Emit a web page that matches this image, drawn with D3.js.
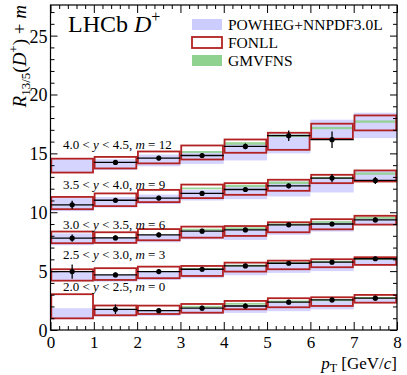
<!DOCTYPE html>
<html><head><meta charset="utf-8">
<script src="https://cdn.jsdelivr.net/npm/d3@7"></script>
<style>body{margin:0;background:#fff}svg{display:block}</style>
</head><body><div id="c"></div>
<script>
const ptEdges = [0,1,2,3,4,5,6,7,8];
const xTicks = [0,1,2,3,4,5,6,7,8];
const yTicks = [0,5,10,15,20,25];
const rapLabels = ["2.0 < ", "2.5 < ", "3.0 < ", "3.5 < ", "4.0 < "];
const rapHigh = ["2.5", "3.0", "3.5", "4.0", "4.5"];
const offsets = [0,3,6,9,12];

// data (ratio without offset), one array per rapidity bin
const data_y20 = [null,1.76,1.64,1.85,2.04,2.36,2.55,2.70];
const err_y20  = [null,0.40,0.22,0.22,0.22,0.20,0.20,0.20];
const data_y25 = [1.96,1.68,1.96,2.16,2.44,2.67,2.76,3.05];
const err_y25  = [0.60,0.20,0.20,0.20,0.18,0.18,0.18,0.18];
const data_y30 = [1.80,1.82,2.08,2.39,2.50,2.93,3.00,3.35];
const err_y30  = [0.30,0.20,0.20,0.20,0.18,0.18,0.18,0.20];
const data_y35 = [1.63,2.02,2.20,2.60,2.93,3.24,3.90,3.70];
const err_y35  = [0.35,0.20,0.20,0.20,0.20,0.20,0.35,0.30];
const data_y40 = [null,2.23,2.60,2.82,3.59,4.50,4.16,null];
const err_y40  = [null,0.20,0.20,0.22,0.25,0.45,0.70,null];

// FONLL
const fonllLo_y20 = [0.99,1.25,1.36,1.47,1.76,1.93,2.04,2.32];
const fonllHi_y20 = [3.04,2.08,2.07,2.21,2.47,2.70,2.78,2.98];
const fonllLo_y25 = [1.19,1.25,1.40,1.59,1.96,2.16,2.33,2.53];
const fonllHi_y25 = [2.16,2.25,2.38,2.44,2.72,2.89,3.01,3.18];
const fonllLo_y30 = [1.37,1.40,1.62,1.84,1.99,2.30,2.55,2.95];
const fonllHi_y30 = [2.36,2.30,2.57,2.78,2.83,3.15,3.41,3.70];
const fonllLo_y35 = [1.26,1.52,1.86,2.20,2.48,2.82,3.47,3.61];
const fonllHi_y35 = [2.30,2.60,2.90,3.35,3.47,3.76,4.18,4.55];
const fonllLo_y40 = [1.37,1.72,2.15,2.48,3.05,3.30,4.24,4.95];
const fonllHi_y40 = [2.55,2.70,3.16,3.67,4.18,4.75,5.52,6.22];

// POWHEG+NNPDF3.0L
const powLo_y20 = [0.92,1.15,1.20,1.35,1.45,1.60,1.75,2.30];
const powHi_y20 = [1.85,1.75,1.70,1.85,2.10,2.30,2.45,2.65];
const powLo_y25 = [1.19,1.10,1.25,1.40,1.65,1.85,2.00,2.50];
const powHi_y25 = [1.96,1.70,1.95,2.10,2.40,2.60,2.75,3.00];
const powLo_y30 = [1.20,1.30,1.45,1.70,1.65,2.08,2.36,2.90];
const powHi_y30 = [2.20,1.90,2.10,2.45,2.60,3.00,3.20,3.50];
const powLo_y35 = [1.10,1.40,1.70,2.00,2.11,2.34,2.68,3.60];
const powHi_y35 = [2.20,2.30,2.50,2.90,3.24,3.60,4.00,4.50];
const powLo_y40 = [1.40,1.60,1.90,2.10,2.40,3.00,4.30,4.30];
const powHi_y40 = [2.50,2.50,2.90,3.20,3.80,4.70,5.86,6.45];

// GMVFNS
const gmLo_y20 = [null,null,null,1.90,2.15,2.35,2.45,2.65];
const gmHi_y20 = [null,null,null,2.05,2.30,2.50,2.60,2.80];
const gmLo_y25 = [null,null,null,2.10,2.40,2.60,2.72,2.95];
const gmHi_y25 = [null,null,null,2.25,2.55,2.75,2.87,3.08];
const gmLo_y30 = [null,null,null,2.45,2.55,2.90,3.10,3.44];
const gmHi_y30 = [null,null,null,2.60,2.72,3.05,3.25,3.63];
const gmLo_y35 = [null,null,null,2.95,3.13,3.39,3.85,4.18];
const gmHi_y35 = [null,null,null,3.10,3.33,3.61,4.00,4.38];
const gmLo_y40 = [null,null,null,3.03,3.73,4.40,5.05,5.60];
const gmHi_y40 = [null,null,null,3.20,3.95,4.60,5.25,5.80];

const series = [
  {d:data_y20,e:err_y20,fl:fonllLo_y20,fh:fonllHi_y20,pl:powLo_y20,ph:powHi_y20,gl:gmLo_y20,gh:gmHi_y20},
  {d:data_y25,e:err_y25,fl:fonllLo_y25,fh:fonllHi_y25,pl:powLo_y25,ph:powHi_y25,gl:gmLo_y25,gh:gmHi_y25},
  {d:data_y30,e:err_y30,fl:fonllLo_y30,fh:fonllHi_y30,pl:powLo_y30,ph:powHi_y30,gl:gmLo_y30,gh:gmHi_y30},
  {d:data_y35,e:err_y35,fl:fonllLo_y35,fh:fonllHi_y35,pl:powLo_y35,ph:powHi_y35,gl:gmLo_y35,gh:gmHi_y35},
  {d:data_y40,e:err_y40,fl:fonllLo_y40,fh:fonllHi_y40,pl:powLo_y40,ph:powHi_y40,gl:gmLo_y40,gh:gmHi_y40}
];

const FONT = "'Liberation Serif', 'Times New Roman', 'DejaVu Serif', serif";
const W=407,H=375, L=50.5, R=397, T=5, B=330;
const svg = d3.select("#c").append("svg").attr("width",W).attr("height",H)
  .attr("font-family",FONT);
const x = d3.scaleLinear().domain([0,8]).range([L,R]);
const y = d3.scaleLinear().domain([0,27.6]).range([B,T]);

const RED="#b22222", BLUE="#ccccff", GREEN="#8fd18f";

const g = svg.append("g");
series.forEach((s,i)=>{
  const m = offsets[i];
  const bins = d3.range(8);
  g.selectAll(null).data(bins.filter(k=>s.pl[k]!=null)).enter().append("rect")
    .attr("x",k=>x(ptEdges[k])).attr("width",k=>x(ptEdges[k+1])-x(ptEdges[k]))
    .attr("y",k=>y(s.ph[k]+m)).attr("height",k=>y(s.pl[k]+m)-y(s.ph[k]+m))
    .attr("fill",BLUE).attr("opacity",0.85);
  g.selectAll(null).data(bins.filter(k=>s.gl[k]!=null)).enter().append("rect")
    .attr("x",k=>x(ptEdges[k])).attr("width",k=>x(ptEdges[k+1])-x(ptEdges[k]))
    .attr("y",k=>y(s.gh[k]+m)).attr("height",k=>y(s.gl[k]+m)-y(s.gh[k]+m))
    .attr("fill",GREEN).attr("opacity",0.9);
  g.selectAll(null).data(bins).enter().append("rect")
    .attr("x",k=>x(ptEdges[k])+0.8).attr("width",k=>x(ptEdges[k+1])-x(ptEdges[k])-1.6)
    .attr("y",k=>y(s.fh[k]+m)).attr("height",k=>y(s.fl[k]+m)-y(s.fh[k]+m))
    .attr("fill","none").attr("stroke",RED).attr("stroke-width",1.8);
  const dk = bins.filter(k=>s.d[k]!=null);
  g.selectAll(null).data(dk).enter().append("line")
    .attr("x1",k=>x(ptEdges[k])).attr("x2",k=>x(ptEdges[k+1]))
    .attr("y1",k=>y(s.d[k]+m)).attr("y2",k=>y(s.d[k]+m))
    .attr("stroke","#000").attr("stroke-width",1.3);
  g.selectAll(null).data(dk).enter().append("line")
    .attr("x1",k=>x((ptEdges[k]+ptEdges[k+1])/2)).attr("x2",k=>x((ptEdges[k]+ptEdges[k+1])/2))
    .attr("y1",k=>y(s.d[k]+s.e[k]+m)).attr("y2",k=>y(s.d[k]-s.e[k]+m))
    .attr("stroke","#000").attr("stroke-width",1.3);
  g.selectAll(null).data(dk).enter().append("circle")
    .attr("cx",k=>x((ptEdges[k]+ptEdges[k+1])/2)).attr("cy",k=>y(s.d[k]+m))
    .attr("r",2.6).attr("fill","#000");
});

// rapidity labels
const labY = [3.3, 6.0, 8.6, 12.0, 15.35];
offsets.forEach((m,i)=>{
  const t = svg.append("text").attr("x",63).attr("y",y(labY[i])).attr("font-size",13).attr("font-family",FONT);
  t.append("tspan").text(rapLabels[i]);
  t.append("tspan").attr("font-style","italic").text("y");
  t.append("tspan").text(" < "+rapHigh[i]+", ");
  t.append("tspan").attr("font-style","italic").text("m");
  t.append("tspan").text(" = "+m);
});

// axes
const minorX = d3.range(0,8.001,0.2).filter(v=>Math.abs(v-Math.round(v))>1e-6);
const minorY = d3.range(0,27.6,1).filter(v=>v%5!==0);
function ax(axisFn, scale, vals, size, tr, labels){
  const a = axisFn(scale).tickValues(vals).tickSize(size).tickSizeOuter(0);
  if(!labels) a.tickFormat("");
  const gg = svg.append("g").attr("transform",tr).call(a);
  gg.attr("font-family",FONT).attr("font-size",17);
  gg.select(".domain").remove();
  gg.selectAll("line").attr("stroke","#000").attr("stroke-width",1);
  gg.selectAll("text").attr("fill","#000");
  return gg;
}
const bx = ax(d3.axisBottom,x,xTicks,-8,`translate(0,${B})`,true);
bx.selectAll("text").attr("y",6).attr("dy","0.71em");
ax(d3.axisBottom,x,minorX,-4,`translate(0,${B})`,false);
ax(d3.axisTop,x,xTicks,-8,`translate(0,${T})`,false);
ax(d3.axisTop,x,minorX,-4,`translate(0,${T})`,false);
const ly = ax(d3.axisLeft,y,yTicks,-7,`translate(${L},0)`,true);
ly.selectAll("text").attr("x",-3).attr("dy","0.36em").attr("font-size",18);
ax(d3.axisLeft,y,minorY,-4,`translate(${L},0)`,false);
ax(d3.axisRight,y,yTicks,-7,`translate(${R},0)`,false);
ax(d3.axisRight,y,minorY,-4,`translate(${R},0)`,false);
svg.append("rect").attr("x",L).attr("y",T).attr("width",R-L).attr("height",B-T)
  .attr("fill","none").attr("stroke","#000").attr("stroke-width",1.2);

// axis titles
const xt = svg.append("text").attr("x",R).attr("y",369).attr("text-anchor","end").attr("font-size",17);
xt.append("tspan").attr("font-style","italic").text("p");
xt.append("tspan").attr("font-size",12).attr("dy",3).text("T");
xt.append("tspan").attr("dy",-3).text(" [GeV/");
xt.append("tspan").attr("font-style","italic").text("c");
xt.append("tspan").text("]");

const yt = svg.append("text").attr("transform",`translate(26,${T}) rotate(-90)`).attr("text-anchor","end").attr("font-size",19);
yt.append("tspan").attr("font-style","italic").text("R");
yt.append("tspan").attr("font-size",13).attr("dy",4).text("13/5");
yt.append("tspan").attr("dy",-4).text("(");
yt.append("tspan").attr("font-style","italic").text("D");
yt.append("tspan").attr("font-size",13).attr("dy",-8).text("+");
yt.append("tspan").attr("dy",8).text(") + ");
yt.append("tspan").attr("font-style","italic").text("m");

// LHCb label
const tl = svg.append("text").attr("x",68).attr("y",32).attr("font-size",24);
tl.append("tspan").text("LHCb ");
tl.append("tspan").attr("font-style","italic").text("D");
tl.append("tspan").attr("font-size",16).attr("dy",-10).text("+");

// legend
const legItems = [
  {name:"POWHEG+NNPDF3.0L", fill:BLUE, stroke:"none"},
  {name:"FONLL", fill:"#fff", stroke:RED},
  {name:"GMVFNS", fill:GREEN, stroke:"none"}
];
legItems.forEach((it,i)=>{
  const yy = 19 + i*18;
  svg.append("rect").attr("x",192).attr("y",yy).attr("width",30).attr("height",11)
    .attr("fill",it.fill).attr("stroke",it.stroke).attr("stroke-width",1.8);
  svg.append("text").attr("x",228).attr("y",yy+10.5).attr("font-size",15.5).text(it.name);
});
</script></body></html>
